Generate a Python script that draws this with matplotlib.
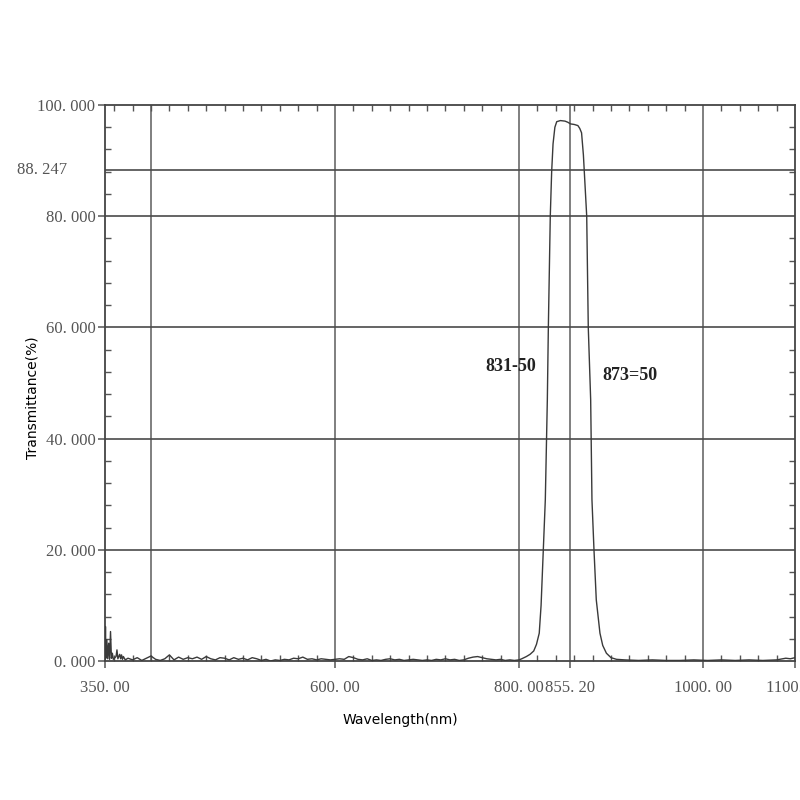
import matplotlib.pyplot as plt
from matplotlib.ticker import FixedLocator, MultipleLocator

noise_nm = [350, 350.5, 351, 352, 353, 354, 355, 356, 357, 358, 359, 362, 363, 364,
            366, 367, 368, 369, 370, 372, 375,
            380, 385, 390, 395, 400, 405, 410, 415, 420, 425, 430, 435, 440, 445,
            450, 455, 460, 465, 470, 475, 480, 485, 490, 495, 500, 505, 510, 515,
            520, 525, 530, 535, 540, 545, 550, 555, 560, 565, 570, 575, 580, 585,
            590, 595, 600, 605, 610, 615, 620, 625, 630, 635, 640, 645, 650, 655,
            660, 665, 670, 675, 680, 685, 690, 695, 700, 705, 710, 715, 720, 725,
            730, 735, 740, 745, 750, 755, 760, 765, 770, 775, 780, 785, 790, 795, 800]
noise_t = [0.3, 6.2, 0.5, 3.8, 0.4, 3.2, 0.3, 5.3, 0.5, 1.4, 0.3, 0.8, 2.0, 0.4,
           1.2, 0.4, 1.1, 0.3, 0.8, 0.2, 0.5,
           0.2, 0.6, 0.1, 0.5, 0.9, 0.3, 0.1, 0.4, 1.1, 0.2, 0.7, 0.3, 0.6, 0.4,
           0.7, 0.3, 0.8, 0.4, 0.2, 0.6, 0.5, 0.2, 0.6, 0.3, 0.5, 0.2, 0.6, 0.4,
           0.1, 0.3, 0.0, 0.2, 0.1, 0.3, 0.2, 0.5, 0.4, 0.7, 0.3, 0.4, 0.2, 0.4,
           0.3, 0.2, 0.3, 0.4, 0.3, 0.8, 0.6, 0.3, 0.2, 0.4, 0.1, 0.2, 0.1, 0.3,
           0.4, 0.2, 0.3, 0.1, 0.2, 0.3, 0.2, 0.1, 0.2, 0.1, 0.3, 0.2, 0.4, 0.2,
           0.3, 0.1, 0.2, 0.5, 0.7, 0.8, 0.6, 0.4, 0.3, 0.2, 0.3, 0.1, 0.2, 0.1, 0.2]

band_nm = [803, 808, 812, 816, 819, 822, 824, 826.4, 828.6, 830.8, 831.9, 833, 834,
           835.5, 837, 839, 841, 845, 850, 853, 856, 860, 864, 866, 868, 870, 871,
           873.6, 875.3, 877.9, 879.3, 881.5, 884, 888, 891, 895, 900, 906]
band_t = [0.4, 0.8, 1.2, 1.8, 3.0, 5.0, 10, 20, 29, 47, 60, 70, 80,
          88, 93, 96, 97.0, 97.2, 97.1, 96.9, 96.6, 96.5, 96.3, 95.8, 95, 91, 88,
          80, 60, 47, 29, 20, 11, 5, 2.8, 1.4, 0.6, 0.3]

tail_nm = [915, 930, 945, 960, 975, 990, 1005, 1020, 1035, 1050, 1065, 1080, 1090, 1095, 1100]
tail_t = [0.2, 0.1, 0.2, 0.1, 0.1, 0.2, 0.1, 0.2, 0.1, 0.2, 0.1, 0.2, 0.5, 0.4, 0.6]

x_ticks = [350, 600, 800, 855.2, 1000, 1100]
x_tick_labels = ['350. 00', '600. 00', '800. 00', '855. 20', '1000. 00', '1100. 00']
y_ticks = [0, 20, 40, 60, 80, 100]
y_tick_labels = ['0. 000', '20. 000', '40. 000', '60. 000', '80. 000', '100. 000']
v_grid = [400, 600, 800, 855.2, 1000]
h_grid = [20, 40, 60, 80, 88.247]

wl = noise_nm + band_nm + tail_nm
tr = noise_t + band_t + tail_t

fig = plt.figure(figsize=(8, 8), dpi=100)
ax = fig.add_axes([105 / 800, 139 / 800, 690 / 800, 556 / 800])

for v in v_grid:
    ax.axvline(v, color='#6a6a6a', lw=1.2, zorder=1)
for h in h_grid:
    ax.axhline(h, color='#4a4a4a', lw=1.2, zorder=1)

ax.plot(wl, tr, color='#3a3a3a', lw=1.0, zorder=3)

ax.set_xlim(350, 1100)
ax.set_ylim(0, 100)

for s in ax.spines.values():
    s.set_color('#444444')
    s.set_linewidth(1.3)

ax.xaxis.set_major_locator(FixedLocator(x_ticks))
ax.set_xticklabels(x_tick_labels)
ax.xaxis.set_minor_locator(FixedLocator(list(range(360, 1100, 20))))
ax.yaxis.set_major_locator(FixedLocator(y_ticks))
ax.set_yticklabels(y_tick_labels)
ax.yaxis.set_minor_locator(MultipleLocator(4))

ax.tick_params(which='major', direction='out', length=5, width=1.1, color='#555555',
               labelsize=12, labelcolor='#555555', pad=9)
ax.tick_params(which='minor', direction='in', length=4, width=1.0, color='#555555',
               top=True, right=True)
ax.tick_params(axis='y', which='major', pad=2)
for lab in ax.get_xticklabels() + ax.get_yticklabels():
    lab.set_fontfamily('Liberation Serif')

# extra level label on the left
ax.text(-0.128, 88.247, '88. 247', transform=ax.get_yaxis_transform(),
        ha='left', va='center', fontsize=12, color='#555555', family='Liberation Serif')

ax.text(791, 52.9, '831-50', ha='center', va='center', fontsize=13, fontweight='bold',
        family='Liberation Serif', color='#222222')
ax.text(891, 51.3, '873=50', ha='left', va='center', fontsize=13, fontweight='bold',
        family='Liberation Serif', color='#222222')

ax.set_xlabel('Wavelength(nm)', fontsize=10)
ax.set_ylabel('Transmittance(%)', fontsize=10)
ax.xaxis.set_label_coords((400 - 105) / 690, -(713 - 661) / 556)
ax.yaxis.set_label_coords(-(105 - 39) / 690, (661 - 398) / 556)

fig.savefig('out.png', dpi=100)
